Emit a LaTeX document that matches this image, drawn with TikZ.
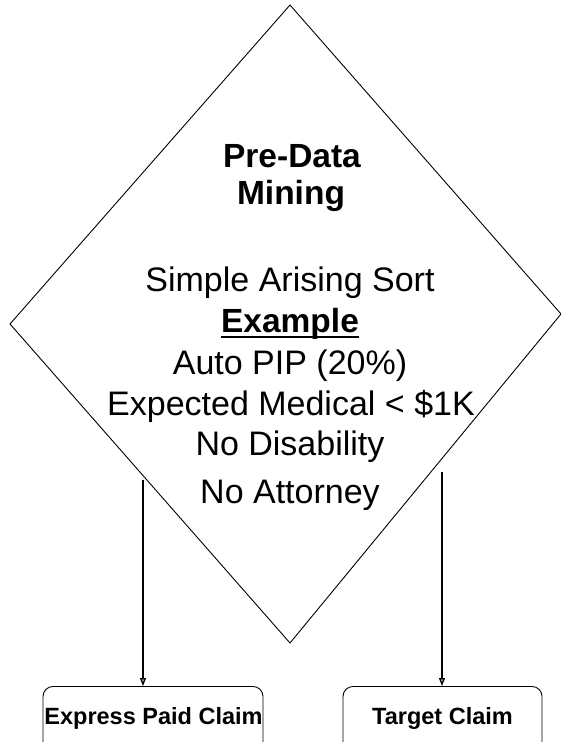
\documentclass[tikz,border=0pt]{standalone}
\usepackage{fontspec}
\setmainfont{Liberation Sans}
\usetikzlibrary{arrows.meta}
\begin{document}
\begin{tikzpicture}[x=1pt,y=1pt,
  big/.style={anchor=base,inner sep=0pt,font=\fontsize{34}{40}\selectfont},
  bigb/.style={big,font=\fontsize{33.5}{40}\selectfont\bfseries},
  boxtxt/.style={anchor=base,inner sep=0pt,font=\fontsize{23.5}{28}\selectfont\bfseries},
  claimbox/.style={draw=black,line width=0.9pt,rounded corners=10pt,anchor=north,minimum height=70pt,inner sep=0pt},
  flow/.style={draw=black,line width=1.3pt,-{Triangle[open,length=8pt,width=6pt,fill=gray!60]}}]
\useasboundingbox (0,0) rectangle (561,-742);
\fill[white] (0,0) rectangle (561,-742);
% diamond
\coordinate (dt) at (290,-5);
\coordinate (dl) at (10,-324);
\coordinate (db) at (290,-643);
\coordinate (dr) at (561,-314);
\draw[line width=0.9pt,line join=miter] (dt) -- (dr) -- (db) -- (dl) -- cycle;
% texts
\node[bigb] (t1) at (292,-167) {Pre-Data};
\node[bigb] (t2) at (291,-204) {Mining};
\node[big] (t3) at (290,-291) {Simple Arising Sort};
\node[bigb] (t4) at (290,-332) {Example};
\draw[line width=2.6pt] ([yshift=-5pt]t4.base west) -- ([yshift=-5pt]t4.base east);
\node[big] (t5) at (290,-374) {Auto PIP (20\%)};
\node[big] (t6) at (291,-415) {Expected Medical < \$1K};
\node[big] (t7) at (290,-455) {No Disability};
\node[big] (t8) at (290,-503) {No Attorney};
% boxes
\node[claimbox,minimum width=220pt] (bx1) at (153,-686) {};
\node[claimbox,minimum width=199pt] (bx2) at (442.5,-686) {};
\node[boxtxt] (l1) at (153.5,-724) {Express Paid Claim};
\node[boxtxt] (l2) at (442.5,-724) {Target Claim};
% arrows
\coordinate (a1) at (143,-480);
\coordinate (a2) at (442,-472);
\draw[flow] (a1) -- (a1 |- bx1.north);
\draw[flow] (a2) -- (a2 |- bx2.north);
\end{tikzpicture}
\end{document}
